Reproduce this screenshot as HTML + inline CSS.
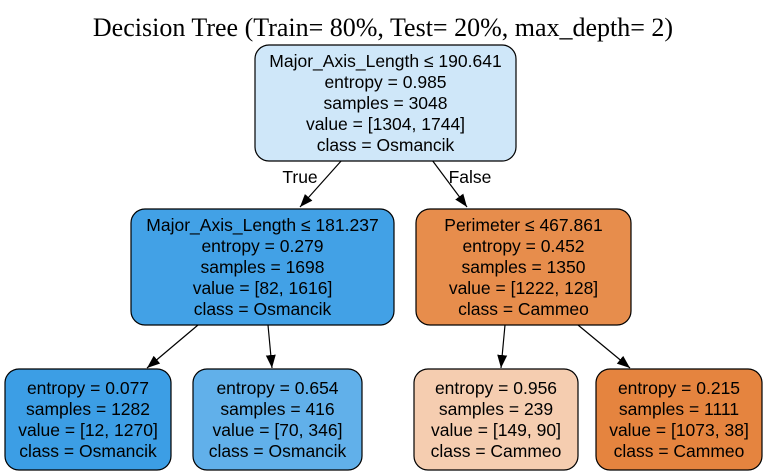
<!DOCTYPE html>
<html><head><meta charset="utf-8"><style>
html,body{margin:0;padding:0;background:#fff;width:767px;height:473px;overflow:hidden}
svg{display:block}
.t{font-family:"Liberation Sans",Arial,sans-serif;font-size:17.5px;fill:#000;text-anchor:middle}
</style></head><body>
<svg width="767" height="473" viewBox="0 0 767 473">
<defs><marker id="ah" markerWidth="14" markerHeight="14" refX="13" refY="6" orient="auto" markerUnits="userSpaceOnUse"><path d="M0,1 L13,6 L0,11 z" fill="#000"/></marker></defs>
<text x="383" y="36" style="font-family:'Liberation Serif',serif;font-size:26px;text-anchor:middle">Decision Tree (Train= 80%, Test= 20%, max_depth= 2)</text>
<g id="edges"></g>
<g id="nodes"></g>
<text class="t" x="300" y="183">True</text>
<text class="t" x="470" y="183">False</text>
</svg>
<script>
const nodeLines=[
["Major_Axis_Length ≤ 190.641","entropy = 0.985","samples = 3048","value = [1304, 1744]","class = Osmancik"],
["Major_Axis_Length ≤ 181.237","entropy = 0.279","samples = 1698","value = [82, 1616]","class = Osmancik"],
["Perimeter ≤ 467.861","entropy = 0.452","samples = 1350","value = [1222, 128]","class = Cammeo"],
["entropy = 0.077","samples = 1282","value = [12, 1270]","class = Osmancik"],
["entropy = 0.654","samples = 416","value = [70, 346]","class = Osmancik"],
["entropy = 0.956","samples = 239","value = [149, 90]","class = Cammeo"],
["entropy = 0.215","samples = 1111","value = [1073, 38]","class = Cammeo"]];
const nodeColors=["#cfe7f9","#42a1e6","#e78d4c","#3c9ee5","#61b0ea","#f5cdb0","#e5843f"];
const nodeNames=["root-node","left-split-node","right-split-node","leaf-1","leaf-2","leaf-3","leaf-4"];
const boxes=[[255,45,261,116],[131,209,263,116],[416,209,215,116],[5,369,166,101],[193,369,169,101],[414,369,164,101],[596,369,166,101]];
const edges=[[342,160,300,207],[432,160,467,207],[198,325,147,368],[268,325,272,368],[505,325,501,368],[578,325,630,368]];
const ns="http://www.w3.org/2000/svg";
const eg=document.getElementById('edges'),ng=document.getElementById('nodes');
edges.forEach((e,i)=>{const l=document.createElementNS(ns,'line');
l.setAttribute('x1',e[0]);l.setAttribute('y1',e[1]);l.setAttribute('x2',e[2]);l.setAttribute('y2',e[3]);
l.setAttribute('stroke','#000');l.setAttribute('stroke-width','1.2');l.setAttribute('marker-end','url(#ah)');


eg.appendChild(l);});
boxes.forEach((b,i)=>{const g=document.createElementNS(ns,'g');


const r=document.createElementNS(ns,'rect');
r.setAttribute('x',b[0]);r.setAttribute('y',b[1]);r.setAttribute('width',b[2]);r.setAttribute('height',b[3]);
r.setAttribute('rx',14);r.setAttribute('fill',nodeColors[i]);r.setAttribute('stroke','#000');r.setAttribute('stroke-width','1.2');
g.appendChild(r);
const lines=nodeLines[i],n=lines.length,sp=21,cy=b[1]+b[3]/2,start=cy-(n-1)*sp/2+6;
lines.forEach((s,k)=>{const t=document.createElementNS(ns,'text');t.setAttribute('class','t');
t.setAttribute('x',b[0]+b[2]/2);t.setAttribute('y',start+k*sp);t.textContent=s;g.appendChild(t);});
ng.appendChild(g);});
</script>
</body></html>
